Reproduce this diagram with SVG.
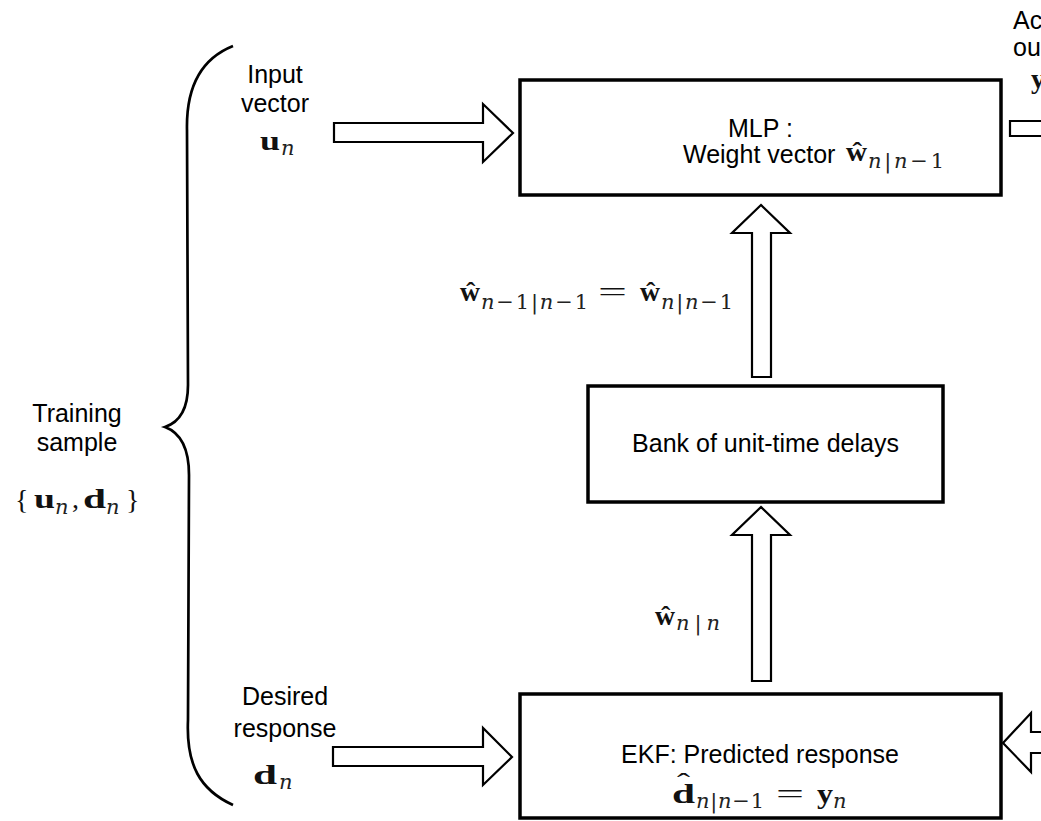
<svg xmlns="http://www.w3.org/2000/svg" width="1041" height="821" viewBox="0 0 1041 821">
  <style>
    .box { fill: #fff; stroke: #000; stroke-width: 3.5; }
    .blk { fill: #fff; stroke: #000; stroke-width: 2.2; stroke-linejoin: miter; }
    .brace { fill: none; stroke: #000; stroke-width: 2.7; }
    .lbl { font-family: "Liberation Sans", Arial, sans-serif; font-size: 25px; fill: #000; }
    .mid { text-anchor: middle; }
    .m { font-family: "Liberation Serif", "DejaVu Serif", serif; font-size: 28px; font-weight: bold; fill: #111; }
    .r { font-family: "Liberation Serif", "DejaVu Serif", serif; font-size: 28px; font-weight: normal; fill: #111; }
    .s { font-family: "DejaVu Serif", "Liberation Serif", serif; font-size: 21px; font-weight: normal; fill: #222; }
    .i { font-style: italic; font-weight: normal; }
  </style>
  <rect width="1041" height="821" fill="#fff"/>

  <!-- training sample brace and its labels -->
  <g id="training-sample">
    <path class="brace" d="M233,46 C203,58 186,85 187,130 L188,385 C188,408 180,422 165,427 C181,433 189,448 189,475 L188,720 C186,765 200,790 233,805"/>
    <text class="lbl mid" x="77" y="422">Training</text>
    <text class="lbl mid" x="77" y="451">sample</text>
    <text class="r" x="15" y="509" font-size="34">{</text>
    <text class="m" x="34" y="508" textLength="21" lengthAdjust="spacingAndGlyphs">u</text>
    <text class="s i" x="55" y="514">n</text>
    <text class="r" x="72" y="508">,</text>
    <text class="m" x="83" y="508" textLength="23" lengthAdjust="spacingAndGlyphs">d</text>
    <text class="s i" x="106" y="514">n</text>
    <text class="r" x="126" y="509" font-size="34">}</text>
  </g>

  <g id="input-vector">
    <text class="lbl mid" x="275" y="83">Input</text>
    <text class="lbl mid" x="275" y="112">vector</text>
    <text class="m" x="260" y="150" textLength="20" lengthAdjust="spacingAndGlyphs">u</text>
    <text class="s i" x="281" y="155">n</text>
  </g>

  <g id="desired-response">
    <text class="lbl mid" x="285" y="705">Desired</text>
    <text class="lbl mid" x="285" y="737">response</text>
    <text class="m" x="253" y="784" textLength="24" lengthAdjust="spacingAndGlyphs">d</text>
    <text class="s i" x="279" y="789">n</text>
  </g>

  <g id="actual-output">
    <text class="lbl" x="1013" y="29">Ac</text>
    <text class="lbl" x="1013" y="56">ou</text>
    <text class="m" x="1031" y="88" font-size="30">y</text>
  </g>

  <!-- processing blocks -->
  <g id="mlp">
    <rect class="box" x="520" y="80" width="481" height="115"/>
    <text class="lbl" x="728" y="137">MLP :</text>
    <text class="lbl" x="683" y="163">Weight vector</text>
    <text class="m" x="846" y="161" textLength="21" lengthAdjust="spacingAndGlyphs">ŵ</text>
    <text class="s" x="868" y="168" textLength="76" lengthAdjust="spacing"><tspan class="i">n</tspan>|<tspan class="i">n</tspan>−1</text>
  </g>

  <g id="delay-bank">
    <rect class="box" x="588" y="386" width="355" height="116"/>
    <text class="lbl mid" x="765.5" y="452">Bank of unit-time delays</text>
  </g>

  <g id="ekf">
    <rect class="box" x="520" y="694" width="481" height="124"/>
    <text class="lbl mid" x="760" y="763">EKF: Predicted response</text>
    <text class="r" x="677" y="792" font-size="20" textLength="13" lengthAdjust="spacingAndGlyphs">ˆ</text>
    <text class="m" x="672" y="803" textLength="23" lengthAdjust="spacingAndGlyphs">d</text>
    <text class="s" x="696" y="808" textLength="68" lengthAdjust="spacing"><tspan class="i">n</tspan>|<tspan class="i">n</tspan>−1</text>
    <text class="r" x="776" y="803" textLength="28" lengthAdjust="spacingAndGlyphs">=</text>
    <text class="m" x="817" y="803" textLength="16" lengthAdjust="spacingAndGlyphs">y</text>
    <text class="s i" x="833" y="808">n</text>
  </g>

  <!-- block arrows between the stages -->
  <g id="connectors">
    <polygon class="blk" points="334,123 483,123 483,104 513,133 483,162 483,142 334,142"/>
    <polygon class="blk" points="333,747 483,747 483,728 512,757 483,785 483,766 333,766"/>
    <polygon class="blk" points="752,377 752,233 732,233 761,205 790,233 771,233 771,377"/>
    <polygon class="blk" points="752,681 752,535 732,535 761,507 790,535 771,535 771,681"/>
    <polygon class="blk" points="1050,121 1010,121 1010,136 1050,136"/>
    <polygon class="blk" points="1050,732 1031,732 1031,713 1003,743 1031,772 1031,753 1050,753"/>
  </g>

  <!-- weight labels on the feedback path -->
  <g id="weight-labels">
    <text class="m" x="460" y="301" textLength="20" lengthAdjust="spacingAndGlyphs">ŵ</text>
    <text class="s" x="481" y="309" textLength="107" lengthAdjust="spacing"><tspan class="i">n</tspan>−1|<tspan class="i">n</tspan>−1</text>
    <text class="r" x="598" y="301" textLength="29" lengthAdjust="spacingAndGlyphs">=</text>
    <text class="m" x="640" y="301" textLength="20" lengthAdjust="spacingAndGlyphs">ŵ</text>
    <text class="s" x="661" y="309" textLength="72" lengthAdjust="spacing"><tspan class="i">n</tspan>|<tspan class="i">n</tspan>−1</text>
    <text class="m" x="655" y="625" textLength="20" lengthAdjust="spacingAndGlyphs">ŵ</text>
    <text class="s" x="676" y="630" textLength="44" lengthAdjust="spacing"><tspan class="i">n</tspan>|<tspan class="i">n</tspan></text>
  </g>
</svg>
